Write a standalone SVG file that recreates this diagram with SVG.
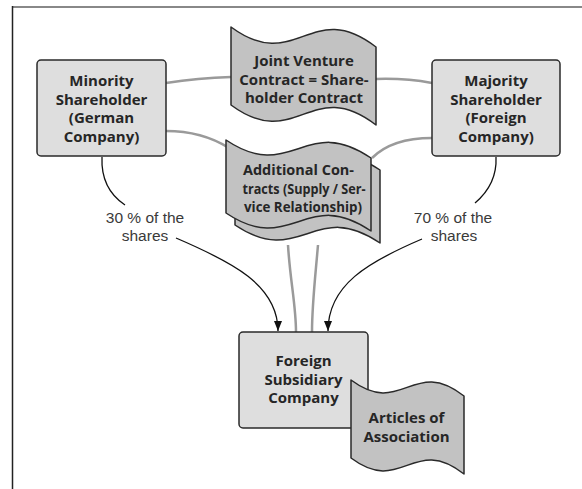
<svg xmlns="http://www.w3.org/2000/svg" width="582" height="489" viewBox="0 0 582 489">
<defs>
<style>
.box{fill:#dedede;stroke:#2a2a2a;stroke-width:1.5}
.doc{fill:#c2c2c2;stroke:#2a2a2a;stroke-width:1.5;stroke-linejoin:round}
.t{font-family:"Open Sans","Liberation Sans",Arial,sans-serif;font-weight:bold;font-size:15px;fill:#262626;text-anchor:middle}
.s{font-size:14px}
.lbl{font-family:"Liberation Sans",Arial,sans-serif;font-size:15.5px;fill:#3a3a3a;text-anchor:middle}
.gray{fill:none;stroke:#9a9a9a;stroke-width:2.5}
.arr{fill:none;stroke:#111;stroke-width:1.3}
</style>
<marker id="ah" markerUnits="userSpaceOnUse" markerWidth="10" markerHeight="8" refX="10" refY="4" orient="auto">
<path d="M0,0 L10,4 L0,8 Z" fill="#111"/>
</marker>
</defs>
<rect width="582" height="489" fill="#fff"/>
<g id="frame">
<line x1="12" y1="7" x2="582" y2="7" stroke="#888" stroke-width="2"/>
<line x1="12.5" y1="6" x2="12.5" y2="489" stroke="#222" stroke-width="1.5"/>
</g>
<g id="connectors">
<path class="gray" d="M166,83 Q198,78 231,77"/>
<path class="gray" d="M166,131 C190,131 210,136 229,148"/>
<path class="gray" d="M376,79 Q405,78 432,83"/>
<path class="gray" d="M432,138 C405,138 385,145 372,158"/>
<path class="gray" d="M288,245 C290,280 296,305 296,332"/>
<path class="gray" d="M318,245 C315,280 312,305 312,332"/>
<path class="arr" d="M102,157 C101,180 110,195 125,205"/>
<path class="arr" d="M176,238 C232,262 278,285 278,331" marker-end="url(#ah)"/>
<path class="arr" d="M496,157 C497,178 488,192 475,203"/>
<path class="arr" d="M422,239 C368,262 328,285 328,331" marker-end="url(#ah)"/>
</g>
<g id="minority">
<rect class="box" x="37" y="60" width="129" height="96" rx="4"/>
<text class="t" x="101.5" y="86">Minority</text>
<text class="t" x="101.5" y="104.5">Shareholder</text>
<text class="t" x="101.5" y="123">(German</text>
<text class="t" x="101.5" y="141.5">Company)</text>
</g>
<g id="majority">
<rect class="box" x="432" y="60" width="128" height="96" rx="4"/>
<text class="t" x="496" y="86">Majority</text>
<text class="t" x="496" y="104.5">Shareholder</text>
<text class="t" x="496" y="123">(Foreign</text>
<text class="t" x="496" y="141.5">Company)</text>
</g>
<g id="jv-contract">
<path class="doc" d="M231,27 C296.25,75 310.75,-3 376,47 L376,125 C310.75,75 296.25,153 231,105 Z"/>
<text class="t" x="304" y="66">Joint Venture</text>
<text class="t" x="304" y="84.5">Contract = Share-</text>
<text class="t" x="304" y="103">holder Contract</text>
</g>
<g id="additional-contracts">
<path class="doc" transform="translate(9,12)" d="M226,140 C291.25,184 305.75,113 371,158 L371,231 C305.75,186 291.25,257 226,213 Z"/>
<path class="doc" d="M226,140 C291.25,184 305.75,113 371,158 L371,231 C305.75,186 291.25,257 226,213 Z"/>
<text class="t s" x="298.5" y="175" textLength="111" lengthAdjust="spacingAndGlyphs">Additional Con-</text>
<text class="t s" x="304" y="193.5" textLength="123" lengthAdjust="spacingAndGlyphs">tracts (Supply / Ser-</text>
<text class="t s" x="303" y="212" textLength="118" lengthAdjust="spacingAndGlyphs">vice Relationship)</text>
</g>
<g id="subsidiary">
<rect class="box" x="239" y="332" width="129" height="96" rx="4"/>
<text class="t" x="303.5" y="366">Foreign</text>
<text class="t" x="303.5" y="384.5">Subsidiary</text>
<text class="t" x="303.5" y="403">Company</text>
</g>
<g id="articles">
<path class="doc" d="M351,380 C401.85,418 413.15,356 464,396 L464,474 C413.15,434 401.85,496 351,458 Z"/>
<text class="t" x="406.5" y="423">Articles of</text>
<text class="t" x="406.5" y="441.5">Association</text>
</g>
<g id="labels">
<text class="lbl" x="145" y="222.5">30 % of the</text>
<text class="lbl" x="145" y="241">shares</text>
<text class="lbl" x="453" y="222.5">70 % of the</text>
<text class="lbl" x="454" y="241">shares</text>
</g>
</svg>
